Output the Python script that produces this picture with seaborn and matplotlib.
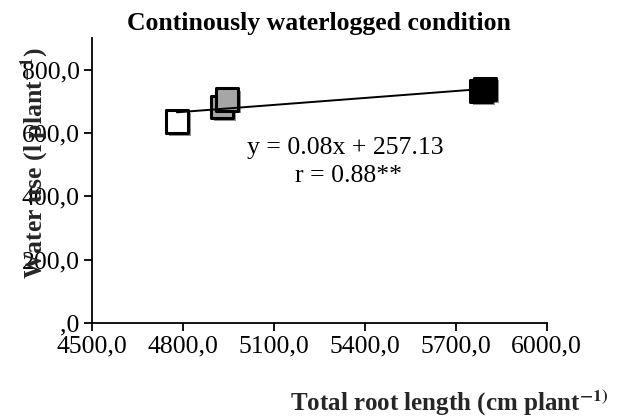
"""
Water use vs total root length - continuously waterlogged
"""

import pandas as pd
import numpy as np
import matplotlib
matplotlib.use('Agg')
import matplotlib.pyplot as plt
import matplotlib.patheffects as pe
from matplotlib.ticker import FuncFormatter
import seaborn as sns

# dados
root_length = [4780, 4929, 4945, 5783, 5796]
water_use = [636, 683, 706, 733, 740]
groups = ['A', 'B', 'B', 'C', 'C']
group_colors = {'A': 'white', 'B': '#a6a6a6', 'C': 'black'}

x_ticks = [4500, 4800, 5100, 5400, 5700, 6000]
y_ticks = [0, 200, 400, 600, 800]

df = pd.DataFrame({'root': root_length, 'water': water_use, 'grp': groups})

sns.set_theme(style='ticks')
plt.rcParams['font.family'] = ['Liberation Serif', 'DejaVu Serif']
plt.rcParams['mathtext.fontset'] = 'stix'
plt.rcParams['text.color'] = 'black'


def comma_fmt(v, pos):
    s = f"{v:.1f}".replace('.', ',')
    return ',0' if v == 0 else s


fig = plt.figure(figsize=(6.22, 4.18), dpi=100)
ax = fig.add_axes([0.148, 0.227, 0.731, 0.682])

shadow = [pe.SimplePatchShadow(offset=(2, -2), shadow_rgbFace='0.3', alpha=0.6), pe.Normal()]

sns.scatterplot(data=df, x='root', y='water', hue='grp', palette=group_colors,
                marker='s', s=260, edgecolor='black', linewidth=2.2,
                legend=False, ax=ax, zorder=3)
for coll in ax.collections:
    coll.set_path_effects(shadow)

# linha de tendencia
sns.regplot(data=df, x='root', y='water', scatter=False, ci=None, ax=ax,
            line_kws={'color': 'black', 'lw': 1.4, 'zorder': 4})

ax.set_xlim(4500, 6000)
ax.set_ylim(0, 900)
ax.set_xticks(x_ticks)
ax.set_yticks(y_ticks)
ax.xaxis.set_major_formatter(FuncFormatter(comma_fmt))
ax.yaxis.set_major_formatter(FuncFormatter(comma_fmt))
ax.tick_params(axis='both', labelsize=18.5, colors='black', width=1.3, length=6, pad=3)

for side in ['top', 'right']:
    ax.spines[side].set_visible(False)
for side in ['left', 'bottom']:
    ax.spines[side].set_color('black')
    ax.spines[side].set_linewidth(1.3)

ax.set_title('Continously waterlogged condition', fontsize=18.5, fontweight='bold', pad=6)

ax.set_ylabel('Water use (l plant$^{\\mathbf{-1}}$)', fontsize=18.5, fontweight='bold')
ax.yaxis.set_label_coords(-0.125, 0.561)
ax.yaxis.label.set_va('center')

ax.set_xlabel('Total root length (cm plant$^{\\mathbf{-1)}}$', fontsize=18, fontweight='bold')
ax.xaxis.set_label_coords(0.785, -0.281)
ax.xaxis.label.set_va('center')

ax.text(0.556, 0.614, 'y = 0.08x + 257.13', transform=ax.transAxes,
        ha='center', va='center', fontsize=18.5)
ax.text(0.563, 0.516, 'r = 0.88**', transform=ax.transAxes,
        ha='center', va='center', fontsize=18.5)

plt.savefig('out.png', dpi=100)
